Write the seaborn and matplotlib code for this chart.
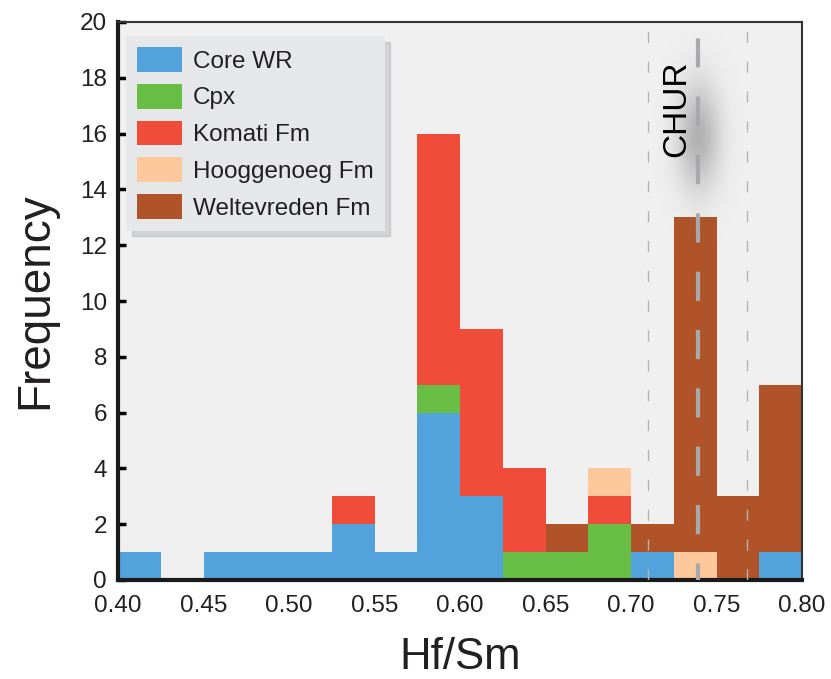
import numpy as np
import pandas as pd
import matplotlib
matplotlib.use("Agg")
import matplotlib.pyplot as plt
import matplotlib.patches as mpatches
import seaborn as sns

# ---- data (counts per 0.025-wide Hf/Sm bin, 0.40 .. 0.80) ----
bin_left = [0.400, 0.425, 0.450, 0.475, 0.500, 0.525, 0.550, 0.575,
            0.600, 0.625, 0.650, 0.675, 0.700, 0.725, 0.750, 0.775]
core_wr      = [1, 0, 1, 1, 1, 2, 1, 6, 3, 0, 0, 0, 1, 0, 0, 1]
cpx          = [0, 0, 0, 0, 0, 0, 0, 1, 0, 1, 1, 2, 0, 0, 0, 0]
komati       = [0, 0, 0, 0, 0, 1, 0, 9, 6, 3, 0, 1, 0, 0, 0, 0]
hooggenoeg   = [0, 0, 0, 0, 0, 0, 0, 0, 0, 0, 0, 1, 0, 1, 0, 0]
weltevreden  = [0, 0, 0, 0, 0, 0, 0, 0, 0, 0, 1, 0, 1, 12, 3, 6]

groups = ["Core WR", "Cpx", "Komati Fm", "Hooggenoeg Fm", "Weltevreden Fm"]
colors = ["#52a3db", "#68bd45", "#f04c3a", "#fcc89c", "#b05328"]
chur = 0.739
chur_lo, chur_hi = 0.710, 0.768
binwidth = 0.025
xticks = [0.40, 0.45, 0.50, 0.55, 0.60, 0.65, 0.70, 0.75, 0.80]
yticks = [0, 2, 4, 6, 8, 10, 12, 14, 16, 18, 20]

rows = []
for g, vals in zip(groups, [core_wr, cpx, komati, hooggenoeg, weltevreden]):
    for b, v in zip(bin_left, vals):
        rows.append({"Hf/Sm": b + binwidth / 2, "count": v, "group": g})
df = pd.DataFrame(rows)

sns.set_theme(style="ticks")
plt.rcParams["font.family"] = ["Liberation Sans", "DejaVu Sans"]
txt = "#231f20"

fig = plt.figure(figsize=(8.31, 6.79), dpi=100)
ax = fig.add_axes([118 / 831, 1 - 580 / 679, 684 / 831, 558 / 679])
ax.set_facecolor("#f0f0f0")

sns.histplot(data=df, x="Hf/Sm", weights="count", hue="group",
             hue_order=groups[::-1], palette=dict(zip(groups, colors)),
             multiple="stack", binwidth=binwidth, binrange=(0.4, 0.8),
             linewidth=0, alpha=1, legend=False, ax=ax, zorder=2)

# CHUR lines
ax.axvline(chur, color="#a7a9ac", lw=3, ls=(3, (7, 7)), zorder=3)
for xv in (chur_lo, chur_hi):
    ax.axvline(xv, color="#b1b3b6", lw=1.0, ls=(0, (8, 13.5)), zorder=3)

# soft glow behind CHUR text
gx = np.linspace(-1, 1, 120)
gy = np.linspace(-1, 1, 240)
GX, GY = np.meshgrid(gx, gy)
alpha = np.exp(-(GX ** 2 + GY ** 2) * 4.5) * 0.55
img = np.zeros((240, 120, 4))
img[..., :3] = 0.5
img[..., 3] = alpha
ax.imshow(img, extent=(0.712, 0.766, 11.8, 20.0), aspect="auto", zorder=2.5,
          interpolation="bilinear")
ax.text(0.7265, 16.9, "CHUR", rotation=90, ha="center", va="center",
        fontsize=24, color="black", zorder=4)

ax.set_xlim(0.4, 0.8)
ax.set_ylim(0, 20)
ax.set_xticks(xticks)
ax.set_xticklabels([f"{v:.2f}" for v in xticks])
ax.set_yticks(yticks)
ax.tick_params(axis="both", direction="in", length=6, width=2.5,
               labelsize=17.5, colors="black", labelcolor=txt)
ax.tick_params(axis="x", length=0, pad=11)
ax.tick_params(axis="y", pad=8)
ax.set_xlabel("Hf/Sm", fontsize=31.5, labelpad=14, color=txt)
ax.set_ylabel("Frequency", fontsize=33, labelpad=16, color=txt)

for side in ("left", "bottom"):
    ax.spines[side].set_linewidth(3)
    ax.spines[side].set_color("#1a1a1a")
for side in ("top", "right"):
    ax.spines[side].set_visible(True)
    ax.spines[side].set_linewidth(1.5)
    ax.spines[side].set_color("#333333")
ax.grid(False)

handles = [mpatches.Patch(facecolor=c, edgecolor="none", label=g)
           for g, c in zip(groups, colors)]
leg = ax.legend(handles=handles, loc="upper left",
                bbox_to_anchor=(0.012, 0.975), borderaxespad=0,
                fontsize=17.5, handlelength=1.85, handleheight=1.2,
                handletextpad=0.45, labelspacing=0.46, borderpad=0.45,
                frameon=True, fancybox=False, framealpha=1,
                shadow={"ox": 4, "oy": -4, "color": "#9a9ea3", "alpha": 0.35})
leg.get_frame().set_facecolor("#e6e7e8")
leg.get_frame().set_edgecolor("none")
for t in leg.get_texts():
    t.set_color(txt)
leg.set_zorder(5)

fig.savefig("out.png", dpi=100)
